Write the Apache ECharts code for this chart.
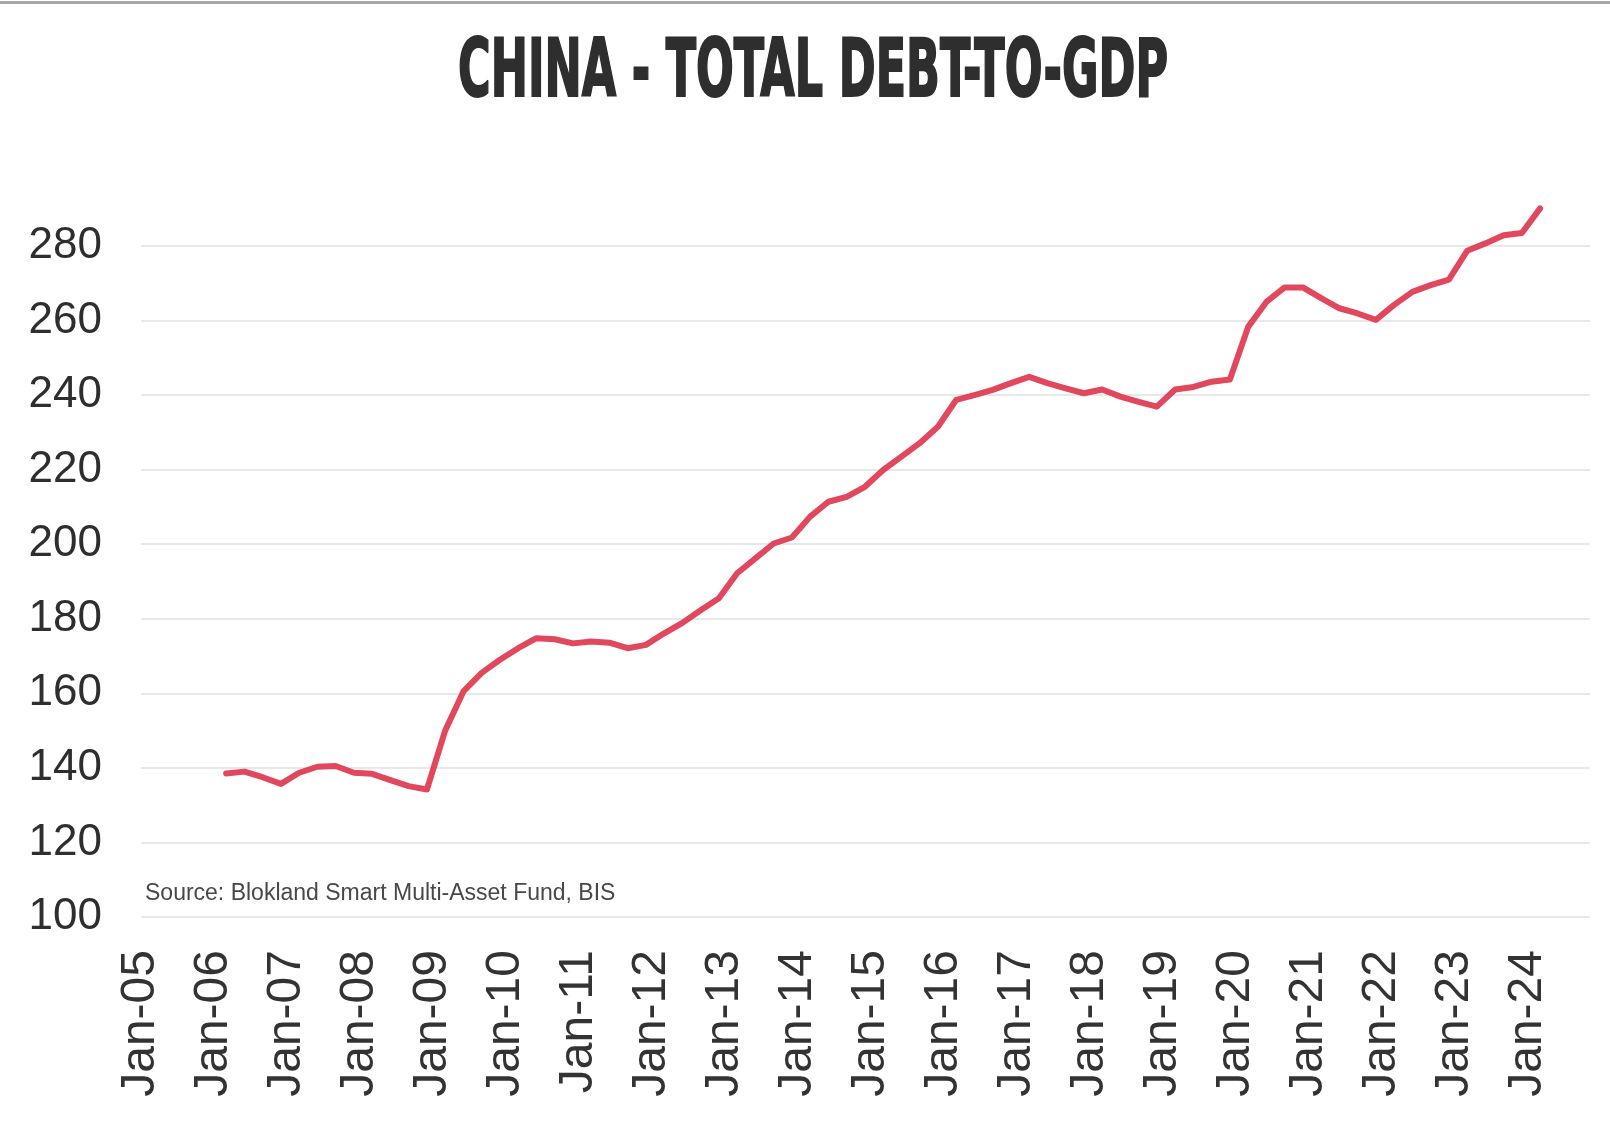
<!DOCTYPE html>
<html>
<head>
<meta charset="utf-8">
<script src="https://cdn.jsdelivr.net/npm/echarts@6/dist/echarts.min.js"></script>
<style>
  html, body { margin: 0; padding: 0; background: #fff; }
  #chart { width: 1610px; height: 1135px; }
</style>
</head>
<body>
<div id="chart"></div>
<script>
// quarterly readings, Mar-06 .. Mar-24
const startYear = 2006
const quarterMonths = [3, 6, 9, 12]
const debtToGdp = [
  138.5, 139.0, 137.5, 135.7,
  138.7, 140.3, 140.5, 138.7,
  138.4, 136.7, 135.1, 134.2,
  150.0, 160.5, 165.5, 169.0,
  172.1, 174.8, 174.5, 173.4,
  173.9, 173.6, 172.1, 173.0,
  176.1, 178.9, 182.3, 185.5,
  192.2, 196.2, 200.2, 201.8,
  207.4, 211.4, 212.7, 215.4,
  219.9, 223.5, 227.1, 231.5,
  238.7, 240.0, 241.4, 243.2,
  244.9, 243.2, 241.8, 240.5,
  241.5, 239.6, 238.2, 236.9,
  241.5, 242.2, 243.6, 244.2,
  258.3, 265.0, 268.9, 268.9,
  266.0, 263.3, 261.9, 260.2,
  264.2, 267.7, 269.5, 271.0,
  278.7, 280.7, 282.9, 283.5,
  290.1
]
const labelYears = [2005, 2006, 2007, 2008, 2009, 2010, 2011, 2012, 2013, 2014,
  2015, 2016, 2017, 2018, 2019, 2020, 2021, 2022, 2023, 2024]
const yTicks = [100, 120, 140, 160, 180, 200, 220, 240, 260, 280]

const titleText = 'CHINA - TOTAL DEBT-TO-GDP'
const sourceText = 'Source: Blokland Smart Multi-Asset Fund, BIS'

const seriesData = debtToGdp.map((v, i) => [
  startYear + Math.floor(i / 4) + (quarterMonths[i % 4] - 1) / 12,
  v
])

// squeeze the title to the width it has in the picture
const titleFont = 'bold 80px "Liberation Sans Narrow", "DejaVu Sans Condensed", "Liberation Sans", sans-serif'
const ctx = document.createElement('canvas').getContext('2d')
ctx.font = titleFont
const titleScale = 710 / ctx.measureText(titleText).width

const chart = echarts.init(document.getElementById('chart'), null, { renderer: 'canvas' })
chart.setOption({
  animation: false,
  backgroundColor: '#fff',
  grid: {
    left: 141,
    right: 20,
    top: 246,
    bottom: 218,
    outerBoundsMode: 'none'
  },
  xAxis: {
    type: 'value',
    min: 2005,
    max: 2024.85,
    interval: 1,
    axisLine: { show: false },
    axisTick: { show: false },
    splitLine: { show: false },
    axisLabel: {
      customValues: labelYears,
      rotate: 90,
      margin: 33,
      fontSize: 48,
      fontFamily: '"Liberation Sans", Arial, sans-serif',
      color: '#333',
      formatter: (v) => 'Jan-' + String(Math.round(v)).slice(2)
    }
  },
  yAxis: {
    type: 'value',
    min: yTicks[0],
    max: yTicks[yTicks.length - 1],
    interval: 20,
    axisLine: { show: false },
    axisTick: { show: false },
    axisLabel: {
      margin: 39,
      fontSize: 44,
      fontFamily: '"Liberation Sans", Arial, sans-serif',
      color: '#2e2e2e'
    },
    splitLine: {
      lineStyle: { color: '#e8e8e8', width: 2 }
    }
  },
  graphic: [
    {
      type: 'rect',
      shape: { x: 0, y: 1, width: 1610, height: 3 },
      style: { fill: '#a8a8a8' },
      silent: true
    },
    {
      type: 'text',
      x: 813,
      y: 75,
      scaleX: titleScale,
      style: {
        text: titleText,
        font: titleFont,
        fill: '#2e2e2e',
        stroke: '#2e2e2e',
        lineWidth: 2,
        align: 'center',
        verticalAlign: 'middle'
      },
      silent: true
    },
    {
      type: 'text',
      x: 145,
      y: 894,
      style: {
        text: sourceText,
        font: '23px "Liberation Sans", Arial, sans-serif',
        fill: '#484848',
        align: 'left',
        verticalAlign: 'middle'
      },
      silent: true
    }
  ],
  series: [
    {
      type: 'line',
      data: seriesData,
      clip: false,
      showSymbol: false,
      symbol: 'none',
      lineStyle: { color: '#e2485d', width: 6, join: 'round', cap: 'round' }
    }
  ]
})
</script>
</body>
</html>
